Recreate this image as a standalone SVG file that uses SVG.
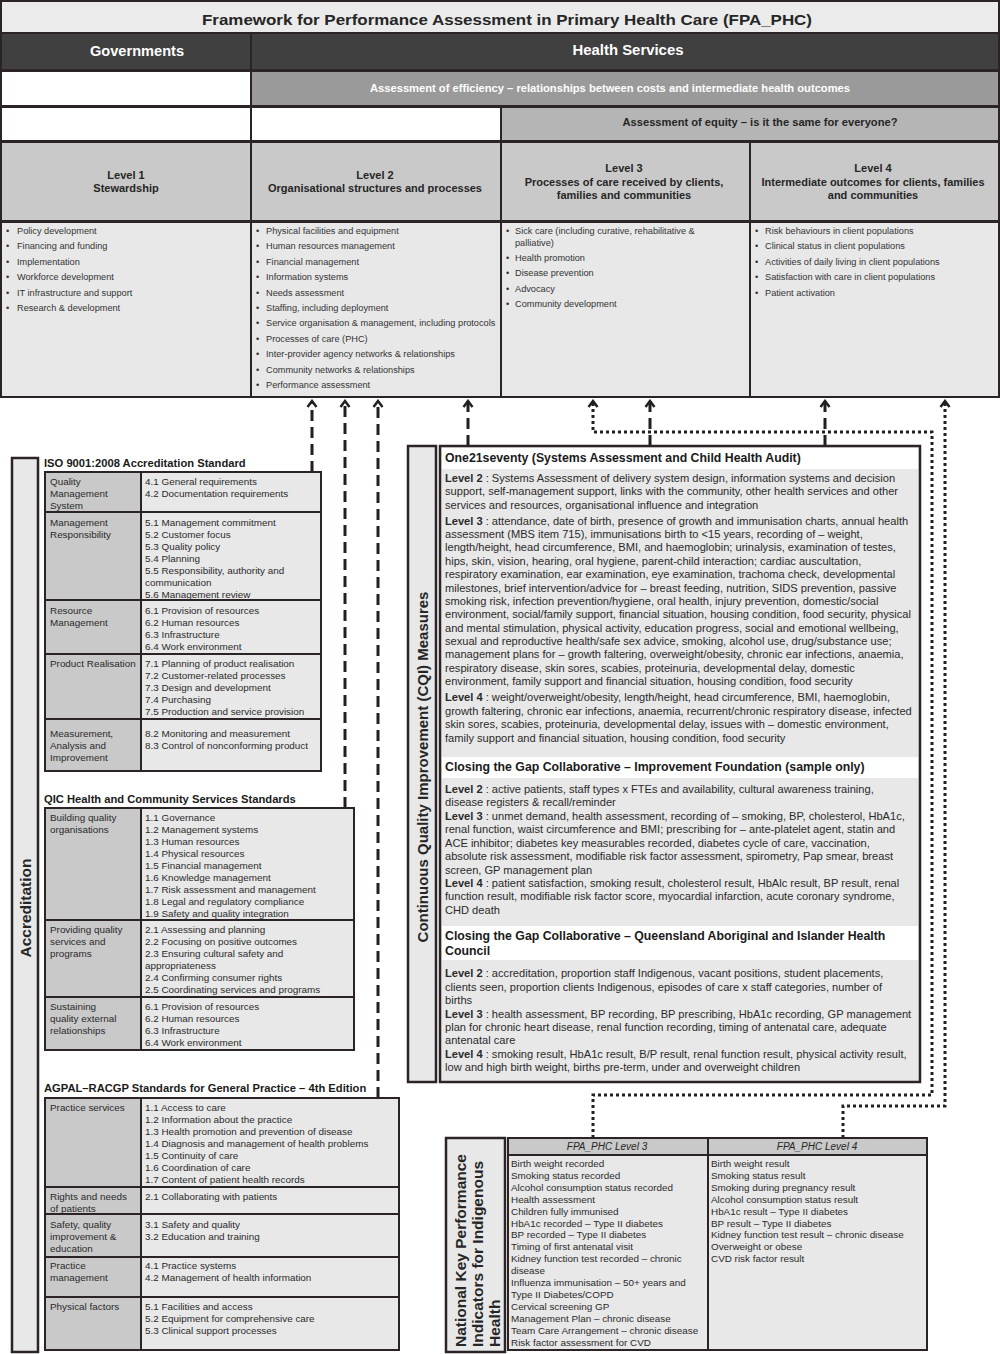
<svg xmlns="http://www.w3.org/2000/svg" width="1000" height="1354" viewBox="0 0 1000 1354">
<style>
text{font-family:"Liberation Sans",Arial,Helvetica,sans-serif;dominant-baseline:central;fill:#262626}
.b{font-weight:bold}
.w{fill:#ffffff}
.mid{text-anchor:middle}
.cell{stroke:#2b2326;stroke-width:2}
.dk{fill:#404040}
.lt{fill:#e8e8e8}
.md{fill:#c9c9c9}
.wh{fill:#ffffff}
.hd{font-size:11px;font-weight:bold}
.li{font-size:9.2px;fill:#333}
.tb{font-size:9.9px;fill:#2a2a2a}
.tt{font-size:11.2px;font-weight:bold;fill:#1a1a1a}
.cq{font-size:11.1px;fill:#2a2a2a}
.ct{font-size:12.3px;font-weight:bold;fill:#1a1a1a}
.side{stroke:#2b2326;stroke-width:2.5;fill:#e8e8e8}
.dash{fill:none;stroke:#231f20;stroke-width:3;stroke-dasharray:11 6}
.dot{fill:none;stroke:#231f20;stroke-width:3;stroke-dasharray:3 3}
</style>
<defs>
<marker id="arr" viewBox="-8 -6 10 12" refX="0" refY="0" markerWidth="10" markerHeight="12" markerUnits="userSpaceOnUse" orient="auto">
<path d="M-6,-4.5 L0,0 L-6,4.5" fill="none" stroke="#231f20" stroke-width="2.5" stroke-dasharray="none"/>
</marker>
</defs>
<rect x="0" y="0" width="1000" height="1354" fill="#ffffff"/>

<g id="title">
<rect class="cell" x="1" y="1" width="998" height="32" fill="#ebebeb"/>
<text class="b mid" x="507" y="19" font-size="15" textLength="610" lengthAdjust="spacingAndGlyphs">Framework for Performance Assessment in Primary Health Care (FPA_PHC)</text>
</g>
<g id="governments">
<rect class="cell dk" x="1" y="33" width="250" height="37"/>
<text class="b mid w" x="137" y="51" font-size="14" textLength="94" lengthAdjust="spacingAndGlyphs">Governments</text>
</g>
<g id="health-services">
<rect class="cell dk" x="251" y="33" width="748" height="37"/>
<text class="b mid w" x="628" y="50" font-size="14" textLength="111" lengthAdjust="spacingAndGlyphs">Health Services</text>
</g>
<g id="efficiency">
<rect class="cell wh" x="1" y="71" width="250" height="35"/>
<rect class="cell" x="251" y="71" width="748" height="35" fill="#9a9a9a"/>
<text class="b mid w" x="610" y="88" font-size="11" textLength="480" lengthAdjust="spacingAndGlyphs">Assessment of efficiency – relationships between costs and intermediate health outcomes</text>
</g>
<g id="equity">
<rect class="cell wh" x="1" y="107" width="250" height="34"/>
<rect class="cell wh" x="251" y="107" width="250" height="34"/>
<rect class="cell" x="501" y="107" width="498" height="34" fill="#b5b5b5"/>
<text class="b mid" x="760" y="122" font-size="11" textLength="275" lengthAdjust="spacingAndGlyphs">Assessment of equity – is it the same for everyone?</text>
</g>

<g id="level1">
<rect class="cell md" x="1" y="142" width="250" height="79"/>
<text class="hd mid" x="126" y="175">Level 1</text>
<text class="hd mid" x="126" y="188">Stewardship</text>
<rect class="cell lt" x="1" y="222" width="250" height="175"/>
<text class="li" x="6" y="231">•</text><text class="li" x="17" y="231">Policy development</text>
<text class="li" x="6" y="246">•</text><text class="li" x="17" y="246">Financing and funding</text>
<text class="li" x="6" y="262">•</text><text class="li" x="17" y="262">Implementation</text>
<text class="li" x="6" y="277">•</text><text class="li" x="17" y="277">Workforce development</text>
<text class="li" x="6" y="293">•</text><text class="li" x="17" y="293">IT infrastructure and support</text>
<text class="li" x="6" y="308">•</text><text class="li" x="17" y="308">Research &amp; development</text>
</g>
<g id="level2">
<rect class="cell md" x="251" y="142" width="250" height="79"/>
<text class="hd mid" x="375" y="175">Level 2</text>
<text class="hd mid" x="375" y="188">Organisational structures and processes</text>
<rect class="cell lt" x="251" y="222" width="250" height="175"/>
<text class="li" x="256" y="231">•</text><text class="li" x="266" y="231">Physical facilities and equipment</text>
<text class="li" x="256" y="246">•</text><text class="li" x="266" y="246">Human resources management</text>
<text class="li" x="256" y="262">•</text><text class="li" x="266" y="262">Financial management</text>
<text class="li" x="256" y="277">•</text><text class="li" x="266" y="277">Information systems</text>
<text class="li" x="256" y="293">•</text><text class="li" x="266" y="293">Needs assessment</text>
<text class="li" x="256" y="308">•</text><text class="li" x="266" y="308">Staffing, including deployment</text>
<text class="li" x="256" y="323">•</text><text class="li" x="266" y="323">Service organisation &amp; management, including protocols</text>
<text class="li" x="256" y="339">•</text><text class="li" x="266" y="339">Processes of care (PHC)</text>
<text class="li" x="256" y="354">•</text><text class="li" x="266" y="354">Inter-provider agency networks &amp; relationships</text>
<text class="li" x="256" y="370">•</text><text class="li" x="266" y="370">Community networks &amp; relationships</text>
<text class="li" x="256" y="385">•</text><text class="li" x="266" y="385">Performance assessment</text>
</g>
<g id="level3">
<rect class="cell md" x="501" y="142" width="249" height="79"/>
<text class="hd mid" x="624" y="168">Level 3</text>
<text class="hd mid" x="624" y="182">Processes of care received by clients,</text>
<text class="hd mid" x="624" y="195">families and communities</text>
<rect class="cell lt" x="501" y="222" width="249" height="175"/>
<text class="li" x="506" y="231">•</text><text class="li" x="515" y="231">Sick care (including curative, rehabilitative &amp;</text>
<text class="li" x="515" y="243">palliative)</text>
<text class="li" x="506" y="258">•</text><text class="li" x="515" y="258">Health promotion</text>
<text class="li" x="506" y="273">•</text><text class="li" x="515" y="273">Disease prevention</text>
<text class="li" x="506" y="289">•</text><text class="li" x="515" y="289">Advocacy</text>
<text class="li" x="506" y="304">•</text><text class="li" x="515" y="304">Community development</text>
</g>
<g id="level4">
<rect class="cell md" x="750" y="142" width="249" height="79"/>
<text class="hd mid" x="873" y="168">Level 4</text>
<text class="hd mid" x="873" y="182">Intermediate outcomes for clients, families</text>
<text class="hd mid" x="873" y="195">and communities</text>
<rect class="cell lt" x="750" y="222" width="249" height="175"/>
<text class="li" x="755" y="231">•</text><text class="li" x="765" y="231">Risk behaviours in client populations</text>
<text class="li" x="755" y="246">•</text><text class="li" x="765" y="246">Clinical status in client populations</text>
<text class="li" x="755" y="262">•</text><text class="li" x="765" y="262">Activities of daily living in client populations</text>
<text class="li" x="755" y="277">•</text><text class="li" x="765" y="277">Satisfaction with care in client populations</text>
<text class="li" x="755" y="293">•</text><text class="li" x="765" y="293">Patient activation</text>
</g>

<g id="connectors">
<path class="dash" d="M312,472 V401" marker-end="url(#arr)"/>
<path class="dash" d="M345,808 V401" marker-end="url(#arr)"/>
<path class="dash" d="M378,1098 V401" marker-end="url(#arr)"/>
<path class="dash" d="M468,446 V401" marker-end="url(#arr)"/>
<path class="dash" d="M650,446 V401" marker-end="url(#arr)"/>
<path class="dash" d="M825,446 V401" marker-end="url(#arr)"/>
<path class="dot" d="M593,1138 V1095 H932 V432 H593 V401" marker-end="url(#arr)"/>
<path class="dot" d="M843,1138 V1106 H945 V401" marker-end="url(#arr)"/>
</g>

<g id="accreditation">
<rect class="side" x="12" y="458" width="26" height="894"/>
<text class="b mid" x="25" y="908" font-size="15.5" transform="rotate(-90 25 908)">Accreditation</text>
</g>

<g id="iso">
<text class="tt" x="44" y="463">ISO 9001:2008 Accreditation Standard</text>
<rect class="cell md" x="45" y="472" width="96" height="40"/><rect class="cell lt" x="141" y="472" width="180" height="40"/>
<rect class="cell md" x="45" y="512" width="96" height="88"/><rect class="cell lt" x="141" y="512" width="180" height="88"/>
<rect class="cell md" x="45" y="600" width="96" height="54"/><rect class="cell lt" x="141" y="600" width="180" height="54"/>
<rect class="cell md" x="45" y="654" width="96" height="65"/><rect class="cell lt" x="141" y="654" width="180" height="65"/>
<rect class="cell md" x="45" y="719" width="96" height="52"/><rect class="cell lt" x="141" y="719" width="180" height="52"/>
<text class="tb" x="50" y="481">Quality</text><text class="tb" x="50" y="493">Management</text><text class="tb" x="50" y="505">System</text>
<text class="tb" x="145" y="481">4.1 General requirements</text><text class="tb" x="145" y="493">4.2 Documentation requirements</text>
<text class="tb" x="50" y="522">Management</text><text class="tb" x="50" y="534">Responsibility</text>
<text class="tb" x="145" y="522">5.1 Management commitment</text>
<text class="tb" x="145" y="534">5.2 Customer focus</text>
<text class="tb" x="145" y="546">5.3 Quality policy</text>
<text class="tb" x="145" y="558">5.4 Planning</text>
<text class="tb" x="145" y="570">5.5 Responsibility, authority and</text>
<text class="tb" x="145" y="582">communication</text>
<text class="tb" x="145" y="594">5.6 Management review</text>
<text class="tb" x="50" y="610">Resource</text><text class="tb" x="50" y="622">Management</text>
<text class="tb" x="145" y="610">6.1 Provision of resources</text>
<text class="tb" x="145" y="622">6.2 Human resources</text>
<text class="tb" x="145" y="634">6.3 Infrastructure</text>
<text class="tb" x="145" y="646">6.4 Work environment</text>
<text class="tb" x="50" y="663">Product Realisation</text>
<text class="tb" x="145" y="663">7.1 Planning of product realisation</text>
<text class="tb" x="145" y="675">7.2 Customer-related processes</text>
<text class="tb" x="145" y="687">7.3 Design and development</text>
<text class="tb" x="145" y="699">7.4 Purchasing</text>
<text class="tb" x="145" y="711">7.5 Production and service provision</text>
<text class="tb" x="50" y="733">Measurement,</text><text class="tb" x="50" y="745">Analysis and</text><text class="tb" x="50" y="757">Improvement</text>
<text class="tb" x="145" y="733">8.2 Monitoring and measurement</text>
<text class="tb" x="145" y="745">8.3 Control of nonconforming product</text>
</g>

<g id="qic">
<text class="tt" x="44" y="799">QIC Health and Community Services Standards</text>
<rect class="cell md" x="45" y="808" width="96" height="112"/><rect class="cell lt" x="141" y="808" width="213" height="112"/>
<rect class="cell md" x="45" y="920" width="96" height="77"/><rect class="cell lt" x="141" y="920" width="213" height="77"/>
<rect class="cell md" x="45" y="997" width="96" height="53"/><rect class="cell lt" x="141" y="997" width="213" height="53"/>
<text class="tb" x="50" y="817">Building quality</text><text class="tb" x="50" y="829">organisations</text>
<text class="tb" x="145" y="817">1.1 Governance</text>
<text class="tb" x="145" y="829">1.2 Management systems</text>
<text class="tb" x="145" y="841">1.3 Human resources</text>
<text class="tb" x="145" y="853">1.4 Physical resources</text>
<text class="tb" x="145" y="865">1.5 Financial management</text>
<text class="tb" x="145" y="877">1.6 Knowledge management</text>
<text class="tb" x="145" y="889">1.7 Risk assessment and management</text>
<text class="tb" x="145" y="901">1.8 Legal and regulatory compliance</text>
<text class="tb" x="145" y="913">1.9 Safety and quality integration</text>
<text class="tb" x="50" y="929">Providing quality</text><text class="tb" x="50" y="941">services and</text><text class="tb" x="50" y="953">programs</text>
<text class="tb" x="145" y="929">2.1 Assessing and planning</text>
<text class="tb" x="145" y="941">2.2 Focusing on positive outcomes</text>
<text class="tb" x="145" y="953">2.3 Ensuring cultural safety and</text>
<text class="tb" x="145" y="965">appropriateness</text>
<text class="tb" x="145" y="977">2.4 Confirming consumer rights</text>
<text class="tb" x="145" y="989">2.5 Coordinating services and programs</text>
<text class="tb" x="50" y="1006">Sustaining</text><text class="tb" x="50" y="1018">quality external</text><text class="tb" x="50" y="1030">relationships</text>
<text class="tb" x="145" y="1006">6.1 Provision of resources</text>
<text class="tb" x="145" y="1018">6.2 Human resources</text>
<text class="tb" x="145" y="1030">6.3 Infrastructure</text>
<text class="tb" x="145" y="1042">6.4 Work environment</text>
</g>

<g id="agpal">
<text class="tt" x="44" y="1088">AGPAL–RACGP Standards for General Practice – 4th Edition</text>
<rect class="cell md" x="45" y="1098" width="96" height="89"/><rect class="cell lt" x="141" y="1098" width="258" height="89"/>
<rect class="cell md" x="45" y="1187" width="96" height="27"/><rect class="cell lt" x="141" y="1187" width="258" height="27"/>
<rect class="cell md" x="45" y="1214" width="96" height="43"/><rect class="cell lt" x="141" y="1214" width="258" height="43"/>
<rect class="cell md" x="45" y="1257" width="96" height="40"/><rect class="cell lt" x="141" y="1257" width="258" height="40"/>
<rect class="cell md" x="45" y="1297" width="96" height="53"/><rect class="cell lt" x="141" y="1297" width="258" height="53"/>
<text class="tb" x="50" y="1107">Practice services</text>
<text class="tb" x="145" y="1107">1.1 Access to care</text>
<text class="tb" x="145" y="1119">1.2 Information about the practice</text>
<text class="tb" x="145" y="1131">1.3 Health promotion and prevention of disease</text>
<text class="tb" x="145" y="1143">1.4 Diagnosis and management of health problems</text>
<text class="tb" x="145" y="1155">1.5 Continuity of care</text>
<text class="tb" x="145" y="1167">1.6 Coordination of care</text>
<text class="tb" x="145" y="1179">1.7 Content of patient health records</text>
<text class="tb" x="50" y="1196">Rights and needs</text><text class="tb" x="50" y="1208">of patients</text>
<text class="tb" x="145" y="1196">2.1 Collaborating with patients</text>
<text class="tb" x="50" y="1224">Safety, quality</text><text class="tb" x="50" y="1236">improvement &amp;</text><text class="tb" x="50" y="1248">education</text>
<text class="tb" x="145" y="1224">3.1 Safety and quality</text>
<text class="tb" x="145" y="1236">3.2 Education and training</text>
<text class="tb" x="50" y="1265">Practice</text><text class="tb" x="50" y="1277">management</text>
<text class="tb" x="145" y="1265">4.1 Practice systems</text>
<text class="tb" x="145" y="1277">4.2 Management of health information</text>
<text class="tb" x="50" y="1306">Physical factors</text>
<text class="tb" x="145" y="1306">5.1 Facilities and access</text>
<text class="tb" x="145" y="1318">5.2 Equipment for comprehensive care</text>
<text class="tb" x="145" y="1330">5.3 Clinical support processes</text>
</g>

<g id="cqi">
<rect class="side" x="408" y="446" width="28" height="636"/>
<text class="b mid" x="422" y="767" font-size="15" transform="rotate(-90 422 767)">Continuous Quality Improvement (CQI) Measures</text>
<rect x="440" y="446" width="480" height="636" fill="#e8e8e8" stroke="#2b2326" stroke-width="2.5"/>
</g>
<g id="one21seventy">
<rect x="442" y="448" width="476" height="21" fill="#ffffff"/>
<text class="ct" x="445" y="458">One21seventy (Systems Assessment and Child Health Audit)</text>
<text class="cq" x="445" y="478"><tspan class="b">Level 2</tspan> : Systems Assessment of delivery system design, information systems and decision</text>
<text class="cq" x="445" y="491">support, self-management support, links with the community, other health services and other</text>
<text class="cq" x="445" y="505">services and resources, organisational influence and integration</text>
<text class="cq" x="445" y="521"><tspan class="b">Level 3</tspan> : attendance, date of birth, presence of growth and immunisation charts, annual health</text>
<text class="cq" x="445" y="534">assessment (MBS item 715), immunisations birth to &lt;15 years, recording of – weight,</text>
<text class="cq" x="445" y="547">length/height, head circumference, BMI, and haemoglobin; urinalysis, examination of testes,</text>
<text class="cq" x="445" y="561">hips, skin, vision, hearing, oral hygiene, parent-child interaction; cardiac auscultation,</text>
<text class="cq" x="445" y="574">respiratory examination, ear examination, eye examination, trachoma check, developmental</text>
<text class="cq" x="445" y="588">milestones, brief intervention/advice for – breast feeding, nutrition, SIDS prevention, passive</text>
<text class="cq" x="445" y="601">smoking risk, infection prevention/hygiene, oral health, injury prevention, domestic/social</text>
<text class="cq" x="445" y="614">environment, social/family support, financial situation, housing condition, food security, physical</text>
<text class="cq" x="445" y="628">and mental stimulation, physical activity, education progress, social and emotional wellbeing,</text>
<text class="cq" x="445" y="641">sexual and reproductive health/safe sex advice, smoking, alcohol use, drug/substance use;</text>
<text class="cq" x="445" y="654">management plans for – growth faltering, overweight/obesity, chronic ear infections, anaemia,</text>
<text class="cq" x="445" y="668">respiratory disease, skin sores, scabies, proteinuria, developmental delay, domestic</text>
<text class="cq" x="445" y="681">environment, family support and financial situation, housing condition, food security</text>
<text class="cq" x="445" y="697"><tspan class="b">Level 4</tspan> : weight/overweight/obesity, length/height, head circumference, BMI, haemoglobin,</text>
<text class="cq" x="445" y="711">growth faltering, chronic ear infections, anaemia, recurrent/chronic respiratory disease, infected</text>
<text class="cq" x="445" y="724">skin sores, scabies, proteinuria, developmental delay, issues with – domestic environment,</text>
<text class="cq" x="445" y="738">family support and financial situation, housing condition, food security</text>
</g>
<g id="ctg-improvement-foundation">
<rect x="442" y="757" width="476" height="21" fill="#ffffff"/>
<text class="ct" x="445" y="767">Closing the Gap Collaborative – Improvement Foundation (sample only)</text>
<text class="cq" x="445" y="789"><tspan class="b">Level 2</tspan> : active patients, staff types x FTEs and availability, cultural awareness training,</text>
<text class="cq" x="445" y="802">disease registers &amp; recall/reminder</text>
<text class="cq" x="445" y="816"><tspan class="b">Level 3</tspan> : unmet demand, health assessment, recording of – smoking, BP, cholesterol, HbA1c,</text>
<text class="cq" x="445" y="829">renal function, waist circumference and BMI; prescribing for – ante-platelet agent, statin and</text>
<text class="cq" x="445" y="843">ACE inhibitor; diabetes key measurables recorded, diabetes cycle of care, vaccination,</text>
<text class="cq" x="445" y="856">absolute risk assessment, modifiable risk factor assessment, spirometry, Pap smear, breast</text>
<text class="cq" x="445" y="870">screen, GP management plan</text>
<text class="cq" x="445" y="883"><tspan class="b">Level 4</tspan> : patient satisfaction, smoking result, cholesterol result, HbAlc result, BP result, renal</text>
<text class="cq" x="445" y="896">function result, modifiable risk factor score, myocardial infarction, acute coronary syndrome,</text>
<text class="cq" x="445" y="910">CHD death</text>
</g>
<g id="ctg-qaihc">
<rect x="442" y="926" width="476" height="34" fill="#ffffff"/>
<text class="ct" x="445" y="936">Closing the Gap Collaborative – Queensland Aboriginal and Islander Health</text>
<text class="ct" x="445" y="951">Council</text>
<text class="cq" x="445" y="973"><tspan class="b">Level 2</tspan> : accreditation, proportion staff Indigenous, vacant positions, student placements,</text>
<text class="cq" x="445" y="987">clients seen, proportion clients Indigenous, episodes of care x staff categories, number of</text>
<text class="cq" x="445" y="1000">births</text>
<text class="cq" x="445" y="1014"><tspan class="b">Level 3</tspan> : health assessment, BP recording, BP prescribing, HbA1c recording, GP management</text>
<text class="cq" x="445" y="1027">plan for chronic heart disease, renal function recording, timing of antenatal care, adequate</text>
<text class="cq" x="445" y="1040">antenatal care</text>
<text class="cq" x="445" y="1054"><tspan class="b">Level 4</tspan> : smoking result, HbA1c result, B/P result, renal function result, physical activity result,</text>
<text class="cq" x="445" y="1067">low and high birth weight, births pre-term, under and overweight children</text>
</g>

<g id="nkpi">
<rect class="side" x="446" y="1138" width="59" height="214"/>
<text class="b" x="460" y="1347" font-size="15.5" transform="rotate(-90 460 1347)">National Key Performance</text>
<text class="b" x="477" y="1347" font-size="15.5" transform="rotate(-90 477 1347)">Indicators for Indigenous</text>
<text class="b" x="494" y="1347" font-size="15.5" transform="rotate(-90 494 1347)">Health</text>
<rect class="cell md" x="508" y="1138" width="200" height="17"/>
<rect class="cell md" x="708" y="1138" width="219" height="17"/>
<text class="mid" x="607" y="1146" font-size="10" font-style="italic">FPA_PHC Level 3</text>
<text class="mid" x="817" y="1146" font-size="10" font-style="italic">FPA_PHC Level 4</text>
<rect class="cell lt" x="508" y="1155" width="200" height="195"/>
<rect class="cell lt" x="708" y="1155" width="219" height="195"/>
<text class="tb" x="511" y="1163">Birth weight recorded</text>
<text class="tb" x="511" y="1175">Smoking status recorded</text>
<text class="tb" x="511" y="1187">Alcohol consumption status recorded</text>
<text class="tb" x="511" y="1199">Health assessment</text>
<text class="tb" x="511" y="1211">Children fully immunised</text>
<text class="tb" x="511" y="1223">HbA1c recorded – Type II diabetes</text>
<text class="tb" x="511" y="1234">BP recorded – Type II diabetes</text>
<text class="tb" x="511" y="1246">Timing of first antenatal visit</text>
<text class="tb" x="511" y="1258">Kidney function test recorded – chronic</text>
<text class="tb" x="511" y="1270">disease</text>
<text class="tb" x="511" y="1282">Influenza immunisation – 50+ years and</text>
<text class="tb" x="511" y="1294">Type II Diabetes/COPD</text>
<text class="tb" x="511" y="1306">Cervical screening GP</text>
<text class="tb" x="511" y="1318">Management Plan – chronic disease</text>
<text class="tb" x="511" y="1330">Team Care Arrangement – chronic disease</text>
<text class="tb" x="511" y="1342">Risk factor assessment for CVD</text>
<text class="tb" x="711" y="1163">Birth weight result</text>
<text class="tb" x="711" y="1175">Smoking status result</text>
<text class="tb" x="711" y="1187">Smoking during pregnancy result</text>
<text class="tb" x="711" y="1199">Alcohol consumption status result</text>
<text class="tb" x="711" y="1211">HbA1c result – Type II diabetes</text>
<text class="tb" x="711" y="1223">BP result – Type II diabetes</text>
<text class="tb" x="711" y="1234">Kidney function test result – chronic disease</text>
<text class="tb" x="711" y="1246">Overweight or obese</text>
<text class="tb" x="711" y="1258">CVD risk factor result</text>
</g>
</svg>
